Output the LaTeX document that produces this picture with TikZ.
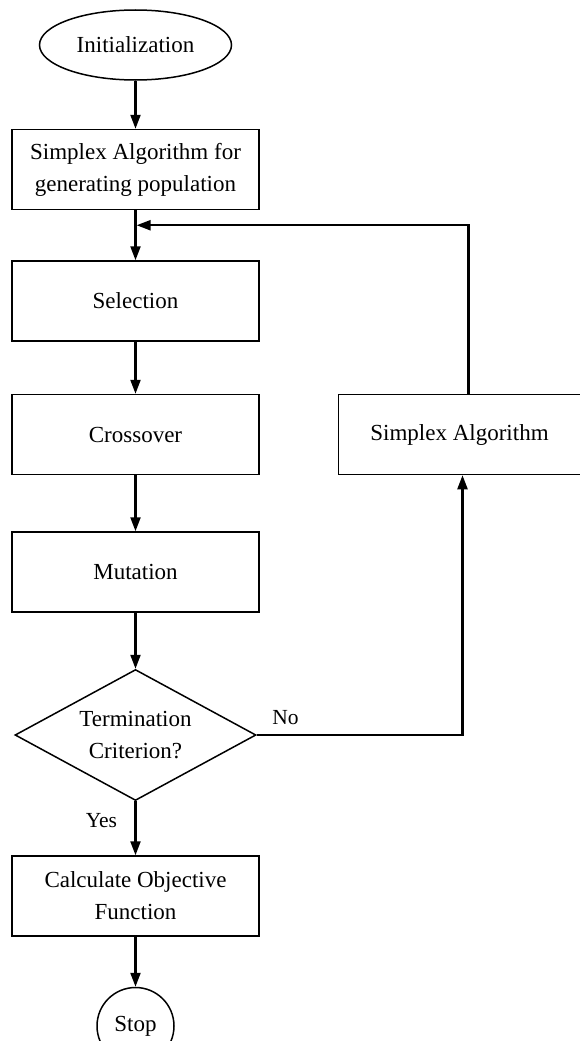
\documentclass[tikz,border=0pt]{standalone}
\usepackage{fontspec}
\setmainfont{Liberation Serif}
\usetikzlibrary{positioning, shapes.geometric, arrows.meta, calc}

\begin{document}
\begin{tikzpicture}[x=1pt, y=-1pt,
    every node/.style={font=\fontsize{23}{32}\selectfont, align=center},
    terminal/.style={draw, ellipse, line width=1.5pt, minimum width=192pt, minimum height=70pt, inner sep=0pt},
    process/.style={draw, line width=1.5pt, minimum width=247pt, minimum height=80pt, inner sep=0pt},
    decision/.style={draw, diamond, aspect=1.84, line width=1.5pt, minimum width=241pt, minimum height=131pt, inner sep=0pt},
    stopper/.style={draw, circle, line width=1.5pt, minimum size=77pt, inner sep=0pt},
    answer/.style={font=\fontsize{21.5}{26}\selectfont},
    flow/.style={-{Triangle[length=14pt, width=10pt]}, line width=2.2pt}]
    \useasboundingbox (0,0) rectangle (579,1041);
    \node [terminal] (init) at (135.5,45) {Initialization};
    \node [process, below = 48pt of init] (gen) {Simplex Algorithm for\\generating population};
    \node [process, below = 50pt of gen] (sel) {Selection};
    \node [process, below = 52pt of sel] (cross) {Crossover};
    \node [process, below = 56pt of cross] (mut) {Mutation};
    \node [decision, below = 56pt of mut] (term) {Termination\\Criterion?};
    \node [process, below = 54pt of term] (calc) {Calculate Objective\\Function};
    \node [stopper, below = 50pt of calc] (stop) {Stop};
    \node [process, minimum width=242pt, right = 78pt of cross] (simplex) {Simplex Algorithm};
    \coordinate (join) at ($(gen.south)!0.3!(sel.north)$);
    \draw [flow] (init) -- (gen);
    \draw [flow] (gen) -- (sel);
    \draw [flow] (sel) -- (cross);
    \draw [flow] (cross) -- (mut);
    \draw [flow] (mut) -- (term);
    \draw [flow] (term) -- node [answer, pos=0.35, left=14pt] {Yes} (calc);
    \draw [flow] (calc) -- (stop);
    \draw [flow] (term.east) -| node [answer, pos=0.07, above=6pt] {No} ([xshift=3pt]simplex.south);
    \draw [flow, shorten >=1.1pt] ([xshift=9pt]simplex.north) |- (join);
\end{tikzpicture}
\end{document}
